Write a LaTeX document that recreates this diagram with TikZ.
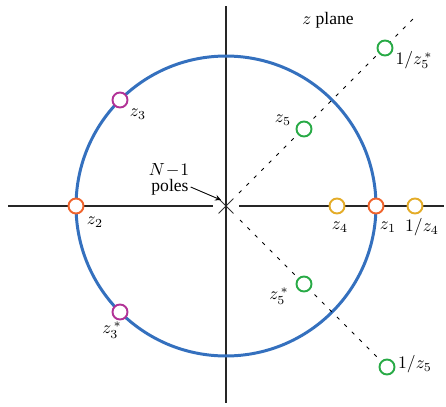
\documentclass[tikz,border=0pt]{standalone}
\usepackage{fontspec}
\setmainfont{Liberation Serif}
\usepackage{xcolor}
\usetikzlibrary{shapes.misc,arrows,positioning}

\definecolor{circblue}{RGB}{52,112,190}
\definecolor{rootorange}{RGB}{240,100,45}
\definecolor{rootyellow}{RGB}{228,172,40}
\definecolor{rootpurple}{RGB}{178,50,150}
\definecolor{rootgreen}{RGB}{40,170,70}

\begin{document}
\begin{tikzpicture}[
    x=0.02cm, y=-0.02cm,
    root/.style={circle, draw, line width=1.1pt, fill=white, minimum size=0.3cm, inner sep=0pt},
    lbl/.style={inner sep=1pt},
    axis/.style={line width=0.6pt, color=black!85},
    ray/.style={line width=0.5pt, dash pattern=on 2pt off 4pt},
    arrow/.style={-stealth, line width=0.5pt}
]
    \useasboundingbox (0,0) rectangle (446,406);

    % Axes and the poles at the origin
    \coordinate (o) at (226,206);
    \node[cross out, draw, line width=0.5pt, minimum size=0.28cm, inner sep=0pt, color=black!80] (pole) at (o) {};
    \draw[axis] (226,6) -- (226,403);
    \draw[axis] (8,206) -- (213,206);
    \draw[axis] (239,206) -- (444,206);

    % Unit circle
    \draw[circblue, line width=1.7pt] (o) circle[radius=3cm];

    % Rays through z5 and its conjugate
    \coordinate (rayup0) at (239,193);
    \coordinate (rayup1) at (417,15);
    \coordinate (raydn0) at (240,220);
    \coordinate (raydn1) at (395,375);
    \draw[ray] (rayup0) -- (rayup1);
    \draw[ray] (raydn0) -- (raydn1);

    % Zeros
    \node[root, draw=rootorange] (z1) at (376,206) {};
    \node[root, draw=rootorange] (z2) at (76,206) {};
    \node[root, draw=rootpurple] (z3) at (120,100) {};
    \node[root, draw=rootpurple] (z3c) at (120,312) {};
    \node[root, draw=rootyellow] (z4) at (337,206) {};
    \node[root, draw=rootyellow] (z4i) at (415,206) {};
    \node[root, draw=rootgreen] (z5) at (304,129) {};
    \node[root, draw=rootgreen] (z5c) at (304,284) {};
    \node[root, draw=rootgreen] (z5ci) at (385,48) {};
    \node[root, draw=rootgreen] (z5i) at (387,367) {};

    % Labels
    \node[lbl] (zplane) at (328,20) {$z$ plane};
    \node[lbl] (lz1) at (388,227) {$z_1$};
    \node[lbl] (lz2) at (95,222) {$z_2$};
    \node[lbl] (lz3) at (138,114) {$z_3$};
    \node[lbl] (lz3c) at (112,330) {$z_3^{\,*}$};
    \node[lbl] (lz4) at (340,227) {$z_4$};
    \node[lbl] (lz4i) at (422,227) {$1/z_4$};
    \node[lbl] (lz5) at (283,120) {$z_5$};
    \node[lbl] (lz5c) at (279,296) {$z_5^{\,*}$};
    \node[lbl] (lz5ci) at (414,60) {$1/z_5^{\,*}$};
    \node[lbl] (lz5i) at (415,364) {$1/z_5$};

    \node[lbl] (nmin) at (169,170) {$N\!-\!1$};
    \node[lbl] (poles) at (170,187) {poles};
    \draw[arrow] (poles.east) -- ([shift={(-5,-6)}]pole.center);
\end{tikzpicture}
\end{document}
